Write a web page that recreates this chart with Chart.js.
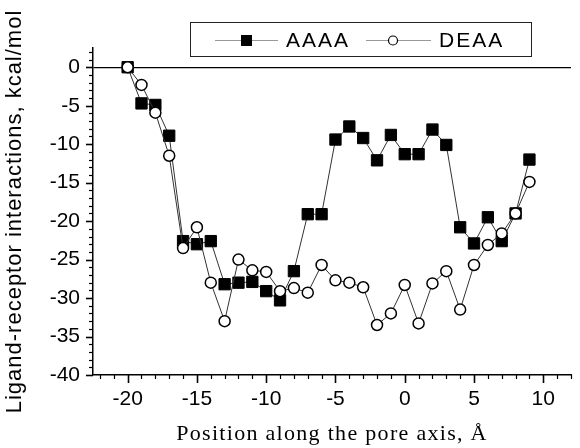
<!DOCTYPE html>
<html>
<head>
<meta charset="utf-8">
<script src="https://cdn.jsdelivr.net/npm/chart.js@4/dist/chart.umd.min.js"></script>
<style>
    html, body { margin: 0; padding: 0; background: #fff; }
    #wrap { width: 580px; height: 448px; }
</style>
</head>
<body>
<div id="wrap"><canvas id="chart" width="580" height="448"></canvas></div>
<script>
// Position along the pore axis, Å
const positions = [-20, -19, -18, -17, -16, -15, -14, -13, -12, -11, -10, -9, -8, -7, -6,
    -5, -4, -3, -2, -1, 0, 1, 2, 3, 4, 5, 6, 7, 8, 9];

// Ligand-receptor interactions, kcal/mol
const aaaaValues = [0, -4.7, -4.9, -8.9, -22.6, -23.0, -22.6, -28.2, -28.0, -27.9, -29.1, -30.3, -26.5, -19.1, -19.1,
    -9.4, -7.7, -9.2, -12.1, -8.8, -11.3, -11.3, -8.1, -10.1, -20.8, -22.9, -19.5, -22.6, -19.0, -12.0];
const deaaValues = [0, -2.3, -5.9, -11.5, -23.5, -20.8, -28.0, -33.0, -25.0, -26.4, -26.6, -29.1, -28.7, -29.3, -25.7,
    -27.7, -28.0, -28.6, -33.5, -32.0, -28.3, -33.3, -28.1, -26.5, -31.5, -25.7, -23.1, -21.6, -19.0, -14.9];

// Tick labels
const xTickLabels = [-20, -15, -10, -5, 0, 5, 10];
const yTickLabels = [-40, -35, -30, -25, -20, -15, -10, -5, 0];

const seriesNames = ['AAAA', 'DEAA'];
const xTitle = 'Position along the pore axis, Å';
const yTitle = 'Ligand-receptor interactions, kcal/mol';

const toPoints = vals => vals.map((v, i) => ({ x: positions[i], y: v }));

// minor/major tick marks on both axes (outward)
const axisTicks = {
    id: 'axisTicks',
    afterDraw(chart) {
        const { ctx, chartArea } = chart;
        const x = chart.scales.x, y = chart.scales.y;
        ctx.save();
        ctx.strokeStyle = '#000';
        for (let v = Math.ceil(x.min); v <= x.max; v++) {
            const major = v % 5 === 0;
            const px = Math.round(x.getPixelForValue(v)) + 0.5;
            ctx.lineWidth = major ? 1.6 : 1.2;
            ctx.beginPath();
            ctx.moveTo(px, chartArea.bottom);
            ctx.lineTo(px, chartArea.bottom + (major ? 8 : 4));
            ctx.stroke();
        }
        for (let v = Math.ceil(y.min); v <= y.max; v++) {
            const major = v % 5 === 0;
            const py = Math.round(y.getPixelForValue(v)) + 0.5;
            ctx.lineWidth = major ? 1.6 : 1.2;
            ctx.beginPath();
            ctx.moveTo(chartArea.left, py);
            ctx.lineTo(chartArea.left - (major ? 7 : 4), py);
            ctx.stroke();
        }
        ctx.restore();
    }
};

// axis titles (spaced lettering) and boxed legend
const extras = {
    id: 'extras',
    afterDraw(chart) {
        const { ctx, chartArea } = chart;
        ctx.save();
        ctx.fillStyle = '#000';
        ctx.font = '22px "Liberation Serif"';
        ctx.letterSpacing = '1.3px';
        ctx.textAlign = 'center';
        ctx.textBaseline = 'alphabetic';
        ctx.fillText(xTitle, (chartArea.left + chartArea.right) / 2, 440);

        // y title, rotated
        ctx.save();
        ctx.translate(15, (chartArea.top + chartArea.bottom) / 2);
        ctx.rotate(-Math.PI / 2);
        ctx.font = '22px "Liberation Sans"';
        ctx.letterSpacing = '1px';
        ctx.textBaseline = 'middle';
        ctx.fillText(yTitle, 0, 0);
        ctx.restore();

        // legend box
        ctx.letterSpacing = '2px';
        ctx.strokeStyle = '#222';
        ctx.lineWidth = 1;
        ctx.strokeRect(190.5, 22.5, 341, 34);
        const cy = 40.5;
        ctx.font = '21px "Liberation Sans"';
        ctx.textAlign = 'left';
        ctx.textBaseline = 'middle';

        ctx.strokeStyle = '#999';
        ctx.beginPath();
        ctx.moveTo(215, cy); ctx.lineTo(241, cy);
        ctx.moveTo(252, cy); ctx.lineTo(278, cy);
        ctx.stroke();
        ctx.fillRect(241, cy - 5.5, 11, 11);
        ctx.fillText(seriesNames[0], 286, cy + 1);

        ctx.beginPath();
        ctx.moveTo(366, cy); ctx.lineTo(388, cy);
        ctx.moveTo(398, cy); ctx.lineTo(431, cy);
        ctx.stroke();
        ctx.beginPath();
        ctx.arc(393, cy, 4.5, 0, Math.PI * 2);
        ctx.fillStyle = '#fff';
        ctx.fill();
        ctx.strokeStyle = '#000';
        ctx.lineWidth = 1.2;
        ctx.stroke();
        ctx.fillStyle = '#000';
        ctx.fillText(seriesNames[1], 439, cy + 1);
        ctx.restore();
    }
};

const tickFont = { family: 'Liberation Sans', size: 21 };

new Chart(document.getElementById('chart'), {
    type: 'line',
    data: {
        datasets: [
            {
                label: seriesNames[0],
                data: toPoints(aaaaValues),
                borderColor: '#333',
                borderWidth: 1,
                pointStyle: 'rect',
                pointRadius: 8,
                pointBackgroundColor: '#000',
                pointBorderColor: '#000',
                pointBorderWidth: 1,
                order: 1
            },
            {
                label: seriesNames[1],
                data: toPoints(deaaValues),
                borderColor: '#333',
                borderWidth: 1,
                pointStyle: 'circle',
                pointRadius: 5.5,
                pointBackgroundColor: '#fff',
                pointBorderColor: '#000',
                pointBorderWidth: 1.5,
                order: 0
            }
        ]
    },
    options: {
        responsive: false,
        animation: false,
        events: [],
        layout: { padding: { top: 48, right: 3, left: 0, bottom: 0 } },
        plugins: { legend: { display: false }, tooltip: { enabled: false } },
        scales: {
            x: {
                type: 'linear',
                min: -22.5,
                max: 12,
                afterFit: s => { s.height = 73; },
                afterBuildTicks: s => { s.ticks = xTickLabels.map(v => ({ value: v })); },
                border: { display: true, color: '#000', width: 1.5 },
                grid: { display: false, drawTicks: false },
                ticks: { color: '#000', font: tickFont, padding: 12, maxRotation: 0 }
            },
            y: {
                type: 'linear',
                min: -40,
                max: 2.5,
                afterFit: s => { s.width = 93; },
                afterBuildTicks: s => { s.ticks = yTickLabels.map(v => ({ value: v })); },
                border: { display: true, color: '#000', width: 1.5 },
                grid: {
                    drawTicks: false,
                    lineWidth: 1.2,
                    color: c => (c.tick && c.tick.value === 0) ? '#000' : 'rgba(0,0,0,0)'
                },
                ticks: { color: '#000', font: tickFont, padding: 13 }
            }
        }
    },
    plugins: [axisTicks, extras]
});
</script>
</body>
</html>
